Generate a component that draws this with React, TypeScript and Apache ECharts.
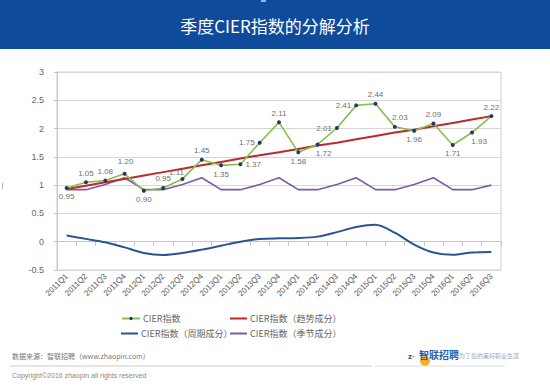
import React, { useEffect, useRef } from "react";
import * as echarts from "echarts";

const categories = [
  "2011Q1", "2011Q2", "2011Q3", "2011Q4",
  "2012Q1", "2012Q2", "2012Q3", "2012Q4",
  "2013Q1", "2013Q2", "2013Q3", "2013Q4",
  "2014Q1", "2014Q2", "2014Q3", "2014Q4",
  "2015Q1", "2015Q2", "2015Q3", "2015Q4",
  "2016Q1", "2016Q2", "2016Q3",
];

const cierIndex = [
  0.95, 1.05, 1.08, 1.2, 0.9, 0.95, 1.11, 1.45, 1.35, 1.37, 1.75, 2.11,
  1.58, 1.72, 2.01, 2.41, 2.44, 2.03, 1.96, 2.09, 1.71, 1.93, 2.22,
];

const trendPart = [
  0.93, 0.99, 1.05, 1.11, 1.17, 1.23, 1.29, 1.35, 1.41, 1.47, 1.53, 1.58,
  1.64, 1.7, 1.75, 1.81, 1.87, 1.93, 1.98, 2.04, 2.1, 2.16, 2.22,
];

const cyclePart = [
  0.11, 0.05, -0.01, -0.1, -0.2, -0.235, -0.2, -0.14, -0.07, 0.0, 0.05, 0.06,
  0.065, 0.09, 0.17, 0.26, 0.3, 0.16, -0.05, -0.19, -0.23, -0.19, -0.18,
];

const seasonPart = [
  0.92, 0.92, 1.01, 1.13, 0.92, 0.92, 1.01, 1.13, 0.92, 0.92, 1.01, 1.13,
  0.92, 0.92, 1.01, 1.13, 0.92, 0.92, 1.01, 1.13, 0.92, 0.92, 1.0,
];

const seriesNames = [
  "CIER指数",
  "CIER指数（趋势成分）",
  "CIER指数（周期成分）",
  "CIER指数（季节成分）",
];

const labelPositions = [
  "bottom", "top", "top", "top", "bottom", "top", "top", "top",
  "bottom", "right", "left", "top", "bottom", "bottom", "left", "left",
  "top", "top", "bottom", "top", "bottom", "bottom", "top",
];

const titleText = "季度CIER指数的分解分析";
const sourceText = "数据来源：智联招聘（www.zhaopin.com）";
const copyrightText = "Copyright©2016 zhaopin all rights reserved";

export default function App() {
  const ref = useRef<HTMLDivElement>(null);

  useEffect(() => {
    if (!ref.current) return;
    const chart = echarts.init(ref.current, undefined, { renderer: "svg" });

    const labelOffsets: Record<number, [number, number]> = {
      13: [6, 0],
      21: [7, 0],
      17: [5, 0],
      3: [1, -3],
      6: [-6, 3],
    };

    const cierData = cierIndex.map((v, i) => ({
      value: v,
      label: {
        position: labelPositions[i] as any,
        offset: labelOffsets[i] || [0, 0],
      },
    }));

    const legendText = {
      color: "#666",
      fontSize: 9,
      fontFamily: "Noto Sans CJK SC",
      padding: [0, 0, 0, -2],
    };
    const lineIcon = "rect";
    const row1 = 309;
    const row2 = 324;

    const option: any = {
      animation: false,
      backgroundColor: "#fff",
      textStyle: { fontFamily: "Liberation Sans, Arial, sans-serif" },
      grid: {
        left: 57,
        right: 49,
        top: 72,
        bottom: 119,
        show: true,
        borderColor: "#cfcfcf",
        borderWidth: 1,
      },
      legend: [
        {
          data: [seriesNames[0]],
          left: 116,
          top: row1,
          itemWidth: 18,
          itemHeight: 4,
          textStyle: legendText,
        },
        {
          data: [{ name: seriesNames[1], icon: lineIcon }],
          left: 225,
          top: row1,
          itemWidth: 17,
          itemHeight: 2,
          textStyle: legendText,
        },
        {
          data: [{ name: seriesNames[2], icon: lineIcon }],
          left: 116,
          top: row2,
          itemWidth: 17,
          itemHeight: 2,
          textStyle: legendText,
        },
        {
          data: [{ name: seriesNames[3], icon: lineIcon }],
          left: 225,
          top: row2,
          itemWidth: 17,
          itemHeight: 2,
          textStyle: legendText,
        },
      ],
      xAxis: {
        type: "category",
        data: categories,
        boundaryGap: true,
        axisLine: { show: true, lineStyle: { color: "#c4c4c4" } },
        axisTick: { show: true, length: 4, lineStyle: { color: "#c4c4c4" } },
        axisLabel: {
          interval: 0,
          rotate: 45,
          fontSize: 8,
          color: "#555",
          margin: 5,
        },
      },
      yAxis: {
        type: "value",
        min: -0.5,
        max: 3,
        interval: 0.5,
        axisLine: { show: true, lineStyle: { color: "#c4c4c4" } },
        axisTick: { show: true, length: 3, lineStyle: { color: "#c4c4c4" } },
        axisLabel: {
          fontSize: 9,
          color: "#666",
          margin: 13,
          formatter: (v: number) => String(v),
        },
        splitLine: { lineStyle: { color: "#d6d6d6", width: 1 } },
      },
      series: [
        {
          name: seriesNames[1],
          type: "line",
          data: trendPart,
          symbol: "none",
          lineStyle: { color: "#c1272d", width: 2 },
          itemStyle: { color: "#c1272d" },
          z: 3,
        },
        {
          name: seriesNames[2],
          type: "line",
          data: cyclePart,
          symbol: "none",
          smooth: 0.3,
          lineStyle: { color: "#2b5591", width: 2 },
          itemStyle: { color: "#2b5591" },
          z: 2,
        },
        {
          name: seriesNames[3],
          type: "line",
          data: seasonPart,
          symbol: "none",
          lineStyle: { color: "#7c5ba6", width: 1.6 },
          itemStyle: { color: "#7c5ba6" },
          z: 2,
        },
        {
          name: seriesNames[0],
          type: "line",
          data: cierData,
          symbol: "circle",
          symbolSize: 4,
          lineStyle: { color: "#86c04a", width: 1.6 },
          itemStyle: { color: "#1d3b6b" },
          label: {
            show: true,
            fontSize: 8,
            color: "#6f6f6f",
            distance: 3,
            formatter: (p: any) => Number(p.value).toFixed(2),
          },
          z: 4,
        },
      ],
      graphic: [
        {
          type: "rect",
          left: 0,
          top: 0,
          shape: { width: 550, height: 49 },
          style: { fill: "#0e4b9b" },
          z: 10,
        },
        {
          type: "rect",
          left: 261,
          top: 0,
          shape: { width: 5, height: 2 },
          style: { fill: "#8fb4e6" },
          z: 11,
        },
        {
          type: "text",
          left: "center",
          top: 17,
          style: {
            text: titleText,
            fill: "#ffffff",
            fontSize: 17,
            fontFamily: "Noto Sans CJK SC",
            fontWeight: "normal",
          },
          z: 11,
        },
        {
          type: "rect",
          left: 2,
          top: 183,
          shape: { width: 1, height: 6 },
          style: { fill: "#bbbbbb" },
        },
        {
          type: "text",
          left: 12,
          top: 352,
          style: {
            text: sourceText,
            fill: "#777",
            fontSize: 7,
            fontFamily: "Noto Sans CJK SC",
          },
        },
        {
          type: "line",
          shape: { x1: 10, y1: 366, x2: 372, y2: 366 },
          style: { stroke: "#cccccc", lineWidth: 1 },
        },
        {
          type: "line",
          shape: { x1: 375, y1: 366, x2: 505, y2: 366 },
          style: { stroke: "#dddddd", lineWidth: 1 },
        },
        {
          type: "text",
          left: 12,
          top: 372,
          style: {
            text: copyrightText,
            fill: "#888",
            fontSize: 7,
            fontFamily: "Liberation Sans",
          },
        },
        {
          type: "circle",
          shape: { cx: 425, cy: 361, r: 5 },
          style: { fill: "#f4b324" },
        },
        {
          type: "text",
          left: 408,
          top: 352,
          style: {
            text: "z·",
            fill: "#2a4a8a",
            fontSize: 8,
            fontWeight: "bold",
          },
        },
        {
          type: "text",
          left: 419,
          top: 349,
          style: {
            text: "智联招聘",
            fill: "#1f62b0",
            fontSize: 10,
            fontWeight: "bold",
            fontFamily: "Noto Sans CJK SC",
          },
        },
        {
          type: "text",
          left: 459,
          top: 352,
          style: {
            text: "为了您的美好职业生涯",
            fill: "#9aa6b8",
            fontSize: 6,
            fontFamily: "Noto Sans CJK SC",
          },
        },
      ],
    };

    chart.setOption(option);
    return () => chart.dispose();
  }, []);

  return (
    <div
      ref={ref}
      style={{ position: "fixed", left: 0, top: 0, width: 550, height: 389 }}
    />
  );
}
